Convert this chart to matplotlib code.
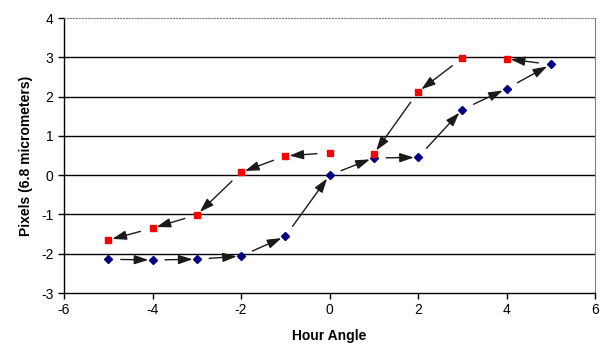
import matplotlib

matplotlib.use("Agg")
import matplotlib.pyplot as plt

plt.rcParams["font.family"] = ["Liberation Sans", "DejaVu Sans"]
plt.rcParams["axes.unicode_minus"] = False

# eastward sweep (blue diamonds) and westward return (red squares)
hour_blue = [-5, -4, -3, -2, -1, 0, 1, 2, 3, 4, 5]
pix_blue = [-2.14, -2.16, -2.14, -2.06, -1.56, 0.0, 0.44, 0.45, 1.67, 2.20, 2.82]
hour_red = [-5, -4, -3, -2, -1, 0, 1, 2, 3, 4]
pix_red = [-1.65, -1.35, -1.01, 0.07, 0.49, 0.57, 0.54, 2.12, 2.98, 2.96]

# arrow links: (from series, from idx, to series, to idx)
links = [("b", i, "b", i + 1) for i in range(10)]
links += [("b", 10, "r", 9), ("r", 8, "r", 7), ("r", 7, "r", 6)]
links += [("r", 5, "r", 4), ("r", 4, "r", 3), ("r", 3, "r", 2), ("r", 2, "r", 1), ("r", 1, "r", 0)]

fig = plt.figure(figsize=(6.05, 3.54), dpi=100)
ax = fig.add_axes([0.1058, 0.1723, 0.8777, 0.7767])

for y in [-2, -1, 0, 1, 2, 3]:
    ax.axhline(y, color="black", lw=1.0, zorder=1)

series = {"b": (hour_blue, pix_blue), "r": (hour_red, pix_red)}
for s0, i0, s1, i1 in links:
    x0, y0 = series[s0][0][i0], series[s0][1][i0]
    x1, y1 = series[s1][0][i1], series[s1][1][i1]
    ax.annotate(
        "",
        xy=(x1, y1),
        xytext=(x0, y0),
        arrowprops=dict(
            arrowstyle="-|>,head_length=0.85,head_width=0.28",
            color="#1a1a1a",
            lw=1.0,
            shrinkA=9,
            shrinkB=3,
        ),
        zorder=2,
    )

ax.plot(hour_blue, pix_blue, ls="none", marker="D", ms=4.2, color="#000080", zorder=3)
ax.plot(hour_red, pix_red, ls="none", marker="s", ms=5.0, color="#ff0000", zorder=3)

ax.set_xlim(-6, 6)
ax.set_ylim(-3, 4)
ax.set_xticks(range(-6, 7, 2))
ax.set_yticks(range(-3, 5))
ax.tick_params(direction="out", length=4, width=1, labelsize=10, colors="black")
ax.spines["top"].set_color("#808080")
ax.spines["top"].set_linestyle(":")
ax.spines["right"].set_color("#808080")
ax.spines["right"].set_linewidth(0.8)
ax.spines["top"].set_linewidth(0.8)
ax.spines["left"].set_linewidth(1.0)
ax.spines["bottom"].set_linewidth(1.0)

ax.set_xlabel("Hour Angle", fontsize=10, fontweight="bold", labelpad=8)
ax.set_ylabel("Pixels (6.8 micrometers)", fontsize=10, fontweight="bold", labelpad=6)

fig.savefig("out.png", dpi=100)
